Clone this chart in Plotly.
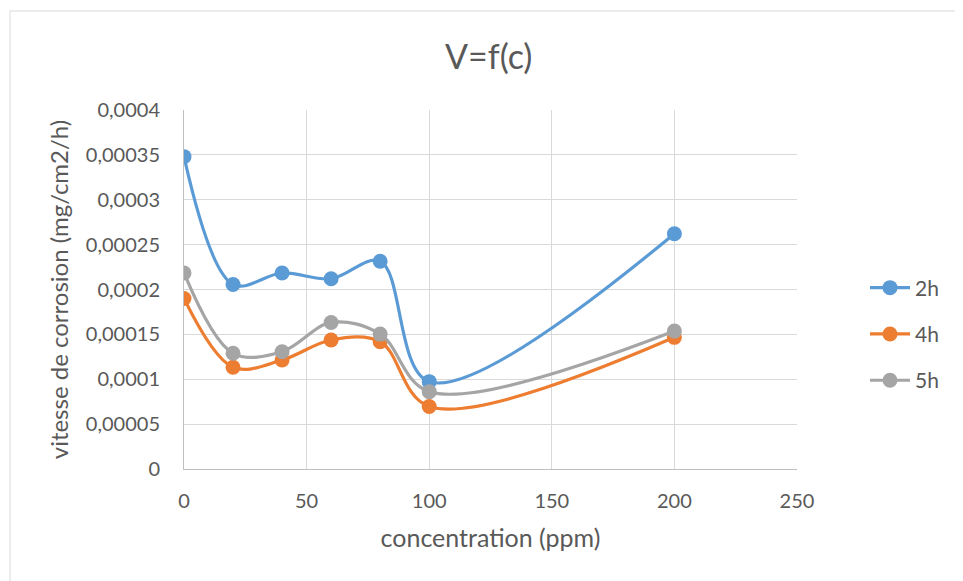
import plotly.graph_objects as go

# concentration (ppm) and corrosion rate (mg/cm2/h)
concentration = [0, 20, 40, 60, 80, 100, 200]
v_2h = [0.000348, 0.0002056, 0.0002184, 0.000212, 0.0002314, 0.0000973, 0.0002622]
v_4h = [0.00019, 0.0001133, 0.0001214, 0.0001437, 0.0001418, 0.0000696, 0.0001467]
v_5h = [0.0002184, 0.0001289, 0.0001307, 0.0001633, 0.0001503, 0.0000862, 0.0001537]

series = [("2h", v_2h, "#5B9BD5"), ("4h", v_4h, "#ED7D31"), ("5h", v_5h, "#A5A5A5")]

FONT = "Lato, Open Sans, sans-serif"
GREY_TXT = "#595959"

# page has an 8px body margin, so the plot box is placed 8px up/left of the target
L, R, T, B = 176, 174, 102, 120
PW, PH = 963 - L - R, 581 - T - B

fig = go.Figure()
for name, vals, col in series:
    fig.add_trace(go.Scatter(
        x=concentration, y=vals, name=name, legendgroup=name,
        mode="lines+markers",
        line=dict(color=col, width=3.2, shape="spline", smoothing=1.0),
        marker=dict(color=col, size=15),
    ))

fig.update_layout(
    width=963, height=581,
    margin=dict(l=L, r=R, t=T, b=B),
    paper_bgcolor="white", plot_bgcolor="white",
    separators=", ",
    font=dict(family=FONT, color=GREY_TXT, size=20),
    title=dict(text="V=f(c)", x=(482 - L) / PW, xanchor="center", y=1 - 49 / 581, yanchor="middle",
               font=dict(size=34, color=GREY_TXT)),
    showlegend=True,
    legend=dict(x=(865 - 8 - L) / PW, xanchor="left", y=(461 - 326) / PH, yanchor="middle",
                font=dict(size=21, color=GREY_TXT), tracegroupgap=16, itemwidth=40,
                bgcolor="rgba(0,0,0,0)"),
    shapes=[dict(type="rect", xref="paper", yref="paper",
                 x0=(2 - L) / PW, x1=(975 - L) / PW,
                 y0=(PH + T - 600) / PH, y1=(PH + T - 3) / PH,
                 line=dict(color="#D9D9D9", width=1), layer="below")],
)

fig.update_xaxes(
    range=[0, 250], dtick=50, tick0=0,
    showgrid=True, gridcolor="#D9D9D9", gridwidth=1,
    zeroline=False, showline=True, linecolor="#BFBFBF", linewidth=1,
    ticks="", ticklabelstandoff=14,
    tickfont=dict(size=20, color=GREY_TXT),
    title=dict(text="concentration (ppm)", font=dict(size=25, color=GREY_TXT), standoff=18),
)
fig.update_yaxes(
    range=[0, 0.0004], dtick=0.00005, tick0=0, tickformat=".5~f",
    showgrid=True, gridcolor="#D9D9D9", gridwidth=1,
    zeroline=False, showline=True, linecolor="#BFBFBF", linewidth=1,
    ticks="", ticklabelstandoff=19,
    tickfont=dict(size=20, color=GREY_TXT),
    title=dict(text="vitesse de corrosion (mg/cm2/h)", font=dict(size=24, color=GREY_TXT), standoff=10),
)

fig.write_html("out.html")
